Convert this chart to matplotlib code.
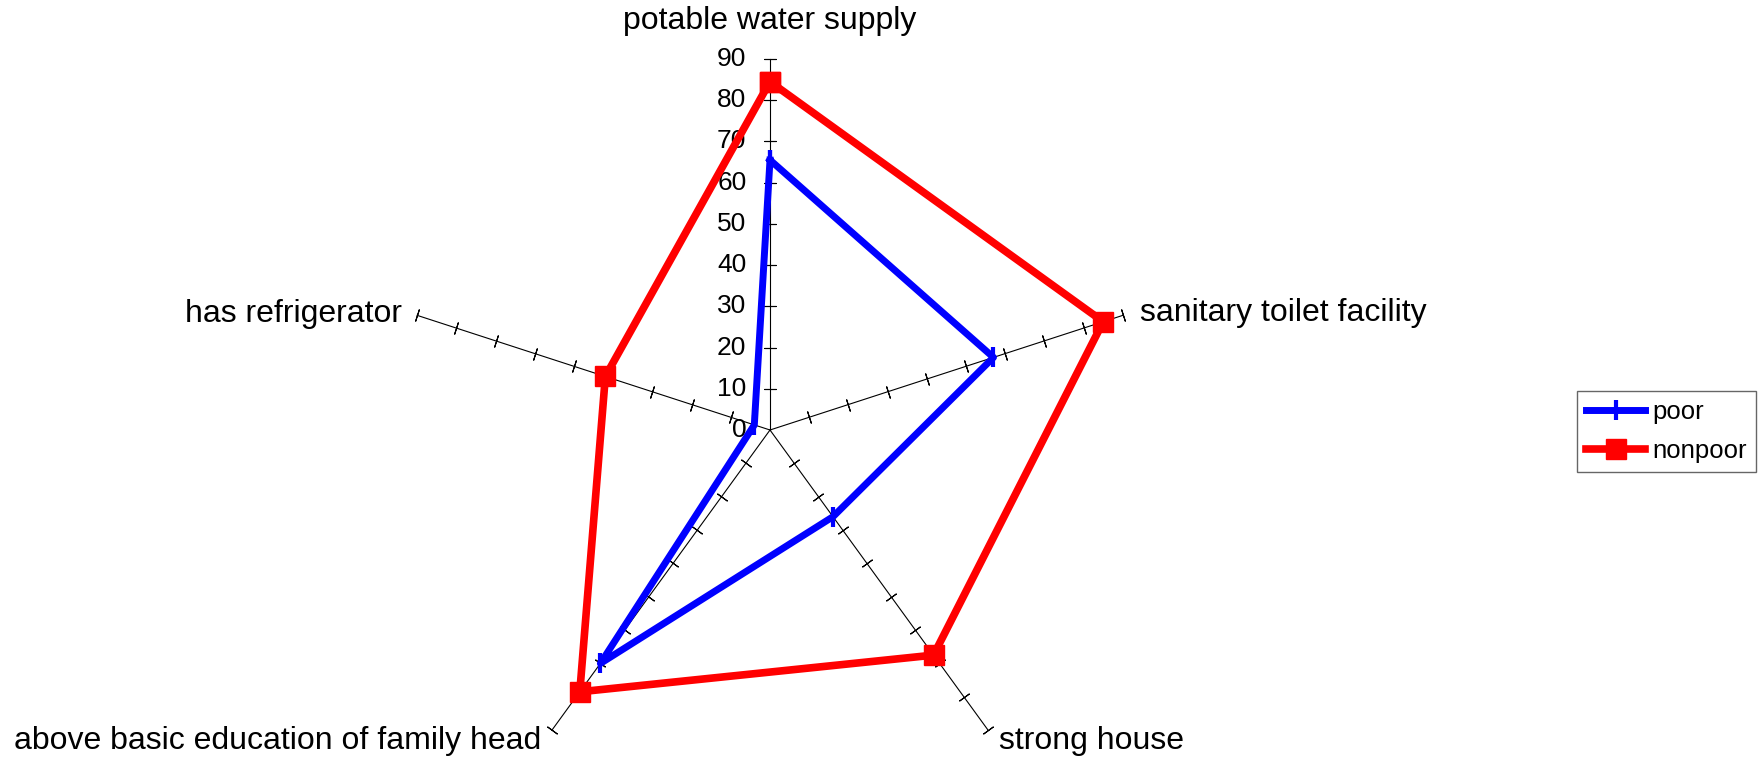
"""Radar chart: household amenities, poor vs nonpoor (Excel-style)."""
import matplotlib
matplotlib.use('Agg')
import matplotlib.pyplot as plt
import numpy as np

plt.rcParams['font.family'] = ['Liberation Sans', 'DejaVu Sans']

categories = ["potable water supply", "sanitary toilet facility", "strong house",
              "above basic education of family head", "has refrigerator"]
poor = [65.5, 57, 26, 70, 4]
nonpoor = [84.5, 85, 67.5, 78.5, 42]
r_ticks = [0, 10, 20, 30, 40, 50, 60, 70, 80, 90]

W, H = 1764, 769
fig = plt.figure(figsize=(W / 100, H / 100), dpi=100)
# centre of the web at (770, 430) px from top-left, 90 -> 371 px
cx, cy, R = 770, 430, 371
ax = fig.add_axes([(cx - R) / W, (H - cy - R) / H, 2 * R / W, 2 * R / H],
                  projection='polar')
ax.set_theta_zero_location('N')
ax.set_theta_direction(-1)
ax.set_ylim(0, r_ticks[-1])
ax.grid(False)
ax.set_xticks([]); ax.set_yticks([])
ax.spines['polar'].set_visible(False)
ax.patch.set_alpha(0)

n = len(categories)
theta = np.arange(n) * 2 * np.pi / n

# spokes with small cross ticks
for i, t in enumerate(theta):
    ax.plot([t, t], [0, r_ticks[-1]], color='black', lw=0.8, clip_on=False, zorder=1)
    screen_ang = 90 - 72 * i
    ax.plot([t] * (len(r_ticks) - 1), r_ticks[1:], ls='none', color='black',
            marker=(2, 2, screen_ang), markersize=9, mew=0.8, clip_on=False, zorder=1)

# radial value labels on the first spoke
for v in r_ticks:
    ax.annotate(str(v), (0, v), xytext=(-17, 0), textcoords='offset points',
                ha='right', va='center', fontsize=19, annotation_clip=False)

# category labels
offsets = [((0, 27), 'center', 'center'),
           ((12, 2), 'left', 'center'),
           ((8, -8), 'left', 'center'),
           ((-8, -8), 'right', 'center'),
           ((-11, 1), 'right', 'center')]
for t, lab, (off, ha, va) in zip(theta, categories, offsets):
    ax.annotate(lab, (t, r_ticks[-1]), xytext=off, textcoords='offset points',
                ha=ha, va=va, fontsize=23, annotation_clip=False)

th_closed = np.append(theta, theta[0])
ax.plot(th_closed, poor + poor[:1], color='#0000FF', lw=5, marker='|',
        markersize=14, mew=3, label='poor', clip_on=False, zorder=4)
ax.plot(th_closed, nonpoor + nonpoor[:1], color='#FF0000', lw=5.5, marker='s',
        markersize=15, label='nonpoor', clip_on=False, zorder=3)

leg = fig.legend(loc='upper left', bbox_to_anchor=(1577 / W, 1 - 391 / H),
                 borderaxespad=0, fontsize=18.5, frameon=True, fancybox=False,
                 edgecolor='#404040', handlelength=2.3, handletextpad=0.3,
                 borderpad=0.35, labelspacing=0.6)
leg.get_frame().set_linewidth(1.0)
fig.savefig('out.png', dpi=100, facecolor='white')
